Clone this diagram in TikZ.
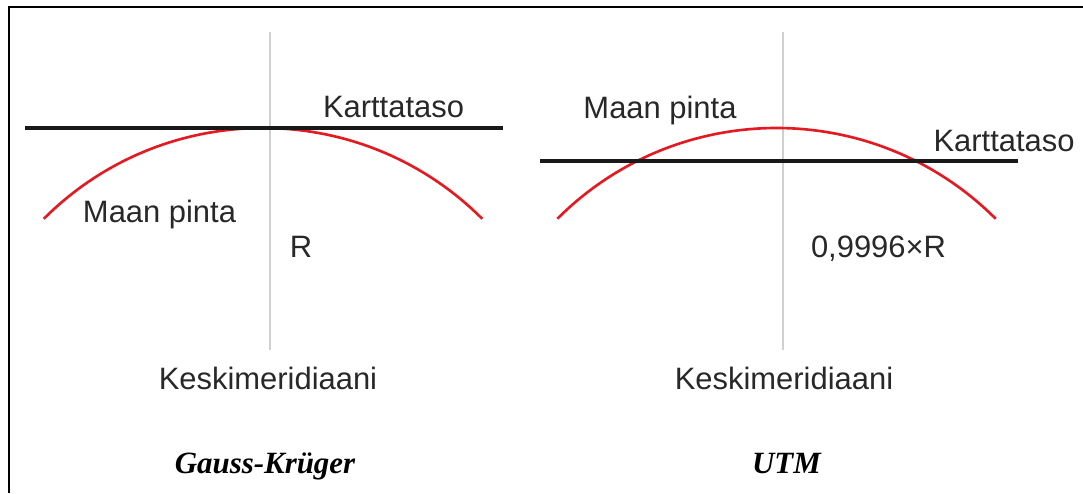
\documentclass[tikz,border=0pt]{standalone}
\usepackage{fontspec}
\setmainfont{Liberation Sans}
\newfontfamily\titlefont{Liberation Serif}
\definecolor{earthred}{RGB}{228,26,34}
\definecolor{meridgray}{RGB}{208,208,208}
\definecolor{txtgray}{RGB}{40,40,40}
\tikzset{
  lbl/.style={anchor=base,inner sep=0pt,text=txtgray,font=\fontsize{17.6}{20}\selectfont},
  ttl/.style={anchor=base,inner sep=0pt,text=black,font=\titlefont\bfseries\itshape\fontsize{17.6}{20}\selectfont},
  meridian/.style={meridgray,line width=1.3pt},
  plane/.style={black!90,line width=2pt},
  earth/.style={earthred,line width=1.5pt}
}
\begin{document}
\begin{tikzpicture}
  \def\r{6.2}
  \useasboundingbox (0,0) rectangle (21.66,9.86);
  \draw[line width=1.6pt] (0.18,0) -- (0.18,9.72) -- (21.66,9.72);
  \path
  (5.26,7.30) coordinate (T1) ++(0,-\r) ++(135:\r) coordinate (A1)
  (15.53,7.30) coordinate (T2) ++(0,-\r) ++(135:\r) coordinate (A2)
  (5.40,9.22) coordinate (M1) (5.40,2.86) coordinate (N1)
  (15.66,9.22) coordinate (M2) (15.66,2.86) coordinate (N2)
  (0.50,7.30) coordinate (P1) (10.06,7.30) coordinate (Q1)
  (10.80,6.64) coordinate (P2) (20.36,6.64) coordinate (Q2)
  ;
  \draw[meridian] (M1)--(N1) (M2)--(N2);
  \foreach \i in {1,2} \draw[earth] (A\i) arc[start angle=135,end angle=45,radius=\r];
  \draw[plane] (P1)--(Q1) (P2)--(Q2);
  % labels
  \foreach \n/\x/\y/\t in {kt1/7.87/7.52/Karttataso, mp1/3.19/5.42/Maan pinta, rr1/6.02/4.72/R,
    km1/5.36/2.08/Keskimeridiaani, mp2/13.20/7.50/Maan pinta, kt2/20.08/6.84/Karttataso,
    rr2/17.57/4.72/{0,9996×R}, km2/15.68/2.08/Keskimeridiaani}
    \node[lbl] (\n) at (\x,\y) {\t};
  \node[ttl] (gk) at (5.30,0.40) {Gauss-Krüger};
  \node[ttl] (utm) at (15.73,0.40) {UTM};
\end{tikzpicture}
\end{document}
